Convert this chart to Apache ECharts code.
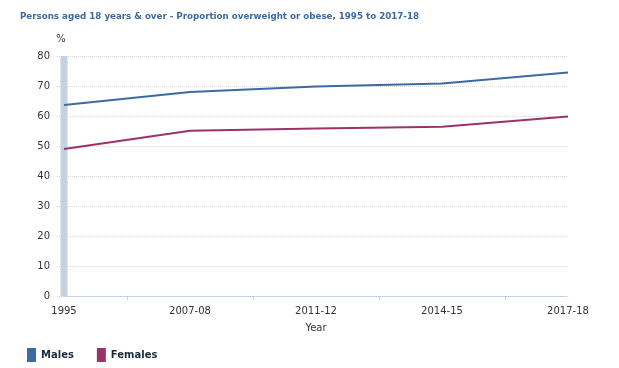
<!DOCTYPE html>
<html>
<head>
<meta charset="utf-8">
<script src="https://cdn.jsdelivr.net/npm/echarts@6/dist/echarts.min.js"></script>
<style>
html,body{margin:0;padding:0;background:#fff;}
#chart{width:619px;height:368px;}
</style>
</head>
<body>
<div id="chart"></div>
<script>
const titleText = 'Persons aged 18 years & over - Proportion overweight or obese, 1995 to 2017-18';
const categories = ['1995', '2007-08', '2011-12', '2014-15', '2017-18'];
const males = [63.7, 68.0, 69.8, 70.8, 74.5];
const females = [49.0, 55.1, 55.8, 56.4, 59.8];
const breakBand = [80, null, null, null, null];
const yTicks = [0, 10, 20, 30, 40, 50, 60, 70, 80];

const chart = echarts.init(document.getElementById('chart'), null, {renderer: 'canvas'});
const font = 'DejaVu Sans, Verdana, sans-serif';
chart.setOption({
  animation: false,
  backgroundColor: '#ffffff',
  title: {
    text: titleText,
    left: 20, top: 12, padding: 0,
    textStyle: {fontFamily: font, fontSize: 8.7, fontWeight: 'bold', color: '#3b6aa0'}
  },
  legend: {
    data: ['Males', 'Females'],
    left: 27, top: 348, padding: 0,
    icon: 'rect',
    itemWidth: 9, itemHeight: 14,
    itemGap: 23,
    textStyle: {fontFamily: font, fontSize: 10, fontWeight: 'bold', color: '#1b2b3d'}
  },
  grid: {left: 64, right: 51, top: 56, bottom: 72, containLabel: false},
  xAxis: [{
    type: 'category',
    data: categories,
    boundaryGap: false,
    name: 'Year',
    nameLocation: 'middle',
    nameGap: 27,
    nameTextStyle: {fontFamily: font, fontSize: 10, color: '#333'},
    axisLine: {show: true, lineStyle: {color: '#b9c9dc', width: 1, type: 'dotted'}},
    axisTick: {show: false},
    axisLabel: {fontFamily: font, fontSize: 10, color: '#333', margin: 10},
    splitLine: {show: false}
  }, {
    type: 'value',
    min: 0,
    max: categories.length - 1,
    position: 'bottom',
    axisLine: {show: false},
    axisLabel: {show: false},
    splitLine: {show: false},
    axisTick: {
      show: true, length: 4, inside: false,
      customValues: categories.slice(1).map((_, i) => i + 0.5),
      lineStyle: {color: '#c8d4e2'}
    }
  }],
  yAxis: {
    type: 'value',
    min: 0, max: 80, interval: 10,
    name: '%',
    nameLocation: 'end',
    nameGap: 12,
    nameTextStyle: {fontFamily: font, fontSize: 10, color: '#333', padding: [0, 6, 0, 0]},
    axisLine: {show: false},
    axisTick: {show: true, length: 8, lineStyle: {color: '#c8d4e2', type: 'dotted'}},
    axisLabel: {fontFamily: font, fontSize: 10, color: '#333', margin: 14,
      formatter: v => yTicks.includes(v) ? String(v) : ''},
    splitLine: {show: true, lineStyle: {color: '#d8d8d8', type: 'dotted', width: 1}}
  },
  series: [{
    name: 'break',
    type: 'bar',
    data: breakBand,
    barWidth: 7,
    silent: true,
    itemStyle: {color: '#c6d2e2'},
    z: 1
  }, {
    name: 'Males',
    type: 'line',
    data: males,
    showSymbol: false,
    symbol: 'none',
    lineStyle: {color: '#3c6ba0', width: 2},
    itemStyle: {color: '#3c6ba0'},
    z: 3
  }, {
    name: 'Females',
    type: 'line',
    data: females,
    showSymbol: false,
    symbol: 'none',
    lineStyle: {color: '#9c3367', width: 2},
    itemStyle: {color: '#9c3367'},
    z: 3
  }]
});
</script>
</body>
</html>
